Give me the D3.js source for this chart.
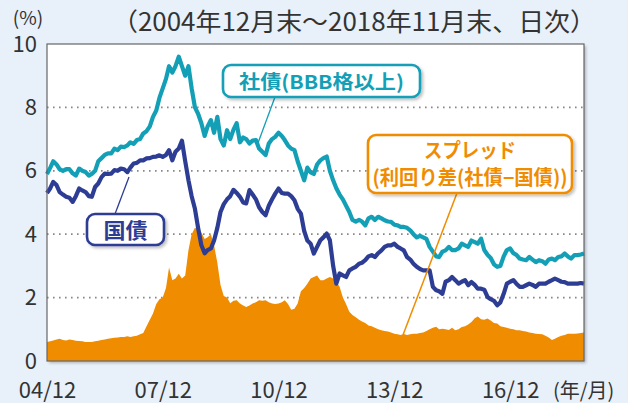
<!DOCTYPE html>
<html lang="ja">
<head>
<meta charset="utf-8">
<title>社債・国債利回りとスプレッド</title>
<script src="https://d3js.org/d3.v7.min.js"></script>
<style>
  body { margin: 0; background: #e8f0f9; }
  svg { display: block; font-family: "Noto Sans CJK JP", "Noto Sans", sans-serif; }
</style>
</head>
<body>
<svg width="628" height="403"></svg>
<script>
// monthly values, 2004/12 .. 2018/11 (month-end)
const startMonth = [2004, 12];
const corp = [
  5.9,6.1,6.3,6.2,6.05,6.0,6.05,6.05,5.92,5.85,
  6.07,6.0,5.96,5.85,5.9,6.0,6.3,6.4,6.5,6.55,
  6.55,6.7,6.65,6.76,6.75,6.8,6.9,6.85,6.97,7.0,
  7.18,7.25,7.4,7.7,7.9,8.3,8.6,8.9,9.3,9.1,
  9.3,9.6,9.3,9.0,9.3,8.6,8.0,7.8,7.5,7.1,
  7.4,7.6,7.2,7.7,7.0,6.8,7.28,7.0,7.3,7.5,
  6.9,7.05,7.0,6.86,6.95,6.97,6.7,6.6,6.5,6.86,
  7.0,7.07,7.2,7.1,6.97,6.8,6.7,6.65,6.3,6.0,
  5.7,6.1,5.95,5.9,6.2,6.33,6.4,6.45,6.0,5.7,
  5.45,5.25,5.1,4.9,4.7,4.45,4.4,4.45,4.4,4.28,
  4.5,4.55,4.45,4.55,4.5,4.44,4.4,4.39,4.3,4.28,
  4.23,4.23,4.2,4.12,4.0,3.9,3.95,3.9,3.85,3.6,
  3.45,3.3,3.28,3.45,3.49,3.6,3.5,3.5,3.55,3.7,
  3.65,3.6,3.8,3.75,3.7,3.86,3.5,3.35,3.25,3.05,
  2.97,3.0,3.3,3.5,3.55,3.4,3.35,3.23,3.2,3.18,
  3.28,3.2,3.12,3.18,3.15,3.07,3.2,3.23,3.18,3.28,
  3.3,3.39,3.3,3.23,3.34,3.34,3.36,3.39
];
const gov = [
  5.3,5.45,5.65,5.55,5.33,5.25,5.18,5.15,5.02,5.2,
  5.44,5.38,5.33,5.2,5.18,5.49,5.6,5.8,5.91,5.9,
  5.91,6.02,6.0,6.07,6.05,5.96,6.1,6.23,6.25,6.33,
  6.33,6.39,6.4,6.44,6.45,6.49,6.44,6.5,6.65,6.33,
  6.6,6.7,6.95,6.3,5.7,5.2,4.8,4.2,3.65,3.4,
  3.5,3.55,3.8,4.2,4.7,4.95,5.1,5.2,5.4,5.3,
  5.18,5.0,4.97,5.39,5.25,5.1,4.85,4.7,4.6,4.9,
  5.1,5.28,5.44,5.3,5.28,5.28,5.2,5.07,4.8,4.65,
  4.1,3.8,3.7,3.39,3.6,3.81,3.9,4.02,3.81,3.0,
  2.44,2.76,2.7,2.65,2.86,2.92,2.97,3.07,3.1,3.18,
  3.3,3.34,3.28,3.4,3.49,3.6,3.65,3.65,3.7,3.6,
  3.55,3.49,3.28,3.2,3.07,2.97,2.9,2.86,2.86,2.86,
  2.34,2.23,2.2,2.12,2.5,2.55,2.65,2.55,2.44,2.5,
  2.55,2.39,2.49,2.4,2.28,2.28,2.25,2.02,1.95,1.9,
  1.76,1.85,2.12,2.44,2.5,2.55,2.44,2.34,2.34,2.39,
  2.44,2.4,2.34,2.44,2.44,2.44,2.5,2.55,2.6,2.55,
  2.5,2.49,2.44,2.44,2.44,2.44,2.46,2.44
];
const spread = [
  0.6,0.62,0.65,0.68,0.7,0.66,0.65,0.68,0.66,0.64,
  0.63,0.62,0.6,0.6,0.6,0.62,0.64,0.66,0.68,0.7,
  0.72,0.73,0.74,0.76,0.76,0.78,0.76,0.78,0.8,0.84,
  0.88,1.1,1.3,1.5,1.8,1.95,2.0,2.3,2.95,2.55,
  2.6,2.75,2.6,2.7,3.5,4.0,4.2,4.15,4.05,3.85,
  3.9,4.0,3.65,3.1,2.4,2.05,2.0,1.82,1.9,1.92,
  1.81,1.75,1.7,1.75,1.81,1.85,1.92,1.9,1.92,1.85,
  1.81,1.8,1.81,1.85,1.92,1.8,1.62,1.65,1.81,2.2,
  2.3,2.44,2.6,2.65,2.7,2.55,2.55,2.6,2.65,2.6,
  2.5,2.34,2.0,1.8,1.55,1.45,1.38,1.3,1.25,1.2,
  1.12,1.1,1.05,1.0,0.97,0.95,0.93,0.9,0.86,0.84,
  0.82,0.85,0.82,0.84,0.86,0.86,0.88,0.9,0.95,1.0,
  1.05,1.08,1.0,1.02,1.0,0.98,1.05,0.97,1.0,1.07,
  1.1,1.15,1.23,1.35,1.4,1.32,1.3,1.34,1.28,1.2,
  1.18,1.1,1.07,1.05,1.02,1.0,0.97,0.97,0.95,0.93,
  0.9,0.88,0.86,0.85,0.84,0.8,0.74,0.66,0.7,0.76,
  0.8,0.82,0.86,0.86,0.86,0.87,0.88,0.9
];
const xTickLabels = ["04/12", "07/12", "10/12", "13/12", "16/12"];
const yTicks = [0, 2, 4, 6, 8, 10];

const corpColor = "#139fb6";
const govColor = "#2d3d94";
const spreadColor = "#f08c00";
const textColor = "#333";

const svg = d3.select("svg");
const L = 47, R = 584, T = 44, B = 361;

// month-end dates
const dates = corp.map((d, i) => new Date(startMonth[0], startMonth[1] + i, 0));
const labelDate = s => new Date(2000 + +s.slice(0, 2), +s.slice(3), 0);

const x = d3.scaleTime().domain([dates[0], dates[dates.length - 1]]).range([L, R]);
const y = d3.scaleLinear().domain([0, 10]).range([B, T]);

const defs = svg.append("defs");
const sh = defs.append("filter").attr("id", "shadow")
  .attr("x", "-10%").attr("y", "-10%").attr("width", "125%").attr("height", "130%");
sh.append("feDropShadow").attr("dx", 2).attr("dy", 2).attr("stdDeviation", 1.8)
  .attr("flood-color", "#000").attr("flood-opacity", 0.25);

svg.append("rect").attr("width", 628).attr("height", 403).attr("fill", "#e8f0f9");

// plot box
svg.append("rect").attr("x", L).attr("y", T).attr("width", R - L).attr("height", B - T)
  .attr("fill", "#fff").attr("filter", "url(#shadow)");

// dotted grid
svg.append("g").selectAll("line").data(yTicks.filter(d => d > 0 && d < 10)).join("line")
  .attr("x1", L).attr("x2", R).attr("y1", d => y(d)).attr("y2", d => y(d))
  .attr("stroke", "#888").attr("stroke-width", 1.8)
  .attr("stroke-dasharray", "1.6 4.4");

// spread area
svg.append("path").datum(spread)
  .attr("fill", spreadColor)
  .attr("d", d3.area().x((d, i) => x(dates[i])).y0(y(0)).y1(d => y(d)));

const line = d3.line().x((d, i) => x(dates[i])).y(d => y(d));
svg.append("path").datum(corp).attr("fill", "none").attr("stroke", corpColor)
  .attr("stroke-width", 4.2).attr("stroke-linejoin", "round").attr("d", line);
svg.append("path").datum(gov).attr("fill", "none").attr("stroke", govColor)
  .attr("stroke-width", 4.2).attr("stroke-linejoin", "round").attr("d", line);

// frame
svg.append("rect").attr("x", L).attr("y", T).attr("width", R - L).attr("height", B - T)
  .attr("fill", "none").attr("stroke", "#666").attr("stroke-width", 1.2);

// axes
const yAxis = svg.append("g").attr("transform", `translate(${L},0)`)
  .call(d3.axisLeft(y).tickValues(yTicks).tickSize(0).tickPadding(10));
const xAxis = svg.append("g").attr("transform", `translate(0,${B})`)
  .call(d3.axisBottom(x).tickValues(xTickLabels.map(labelDate))
    .tickFormat((d, i) => xTickLabels[i]).tickSize(0).tickPadding(21));
[yAxis, xAxis].forEach(g => {
  g.select(".domain").remove();
  g.selectAll("text").attr("font-size", 22).attr("fill", textColor)
    .attr("font-family", "'Noto Sans CJK JP', sans-serif");
});

svg.append("text").attr("x", 28).attr("y", 25).attr("text-anchor", "middle")
  .attr("font-size", 19).attr("fill", textColor).text("(%)");
svg.append("text").attr("x", 553).attr("y", 398)
  .attr("font-size", 20).attr("fill", textColor).text("(年/月)");
svg.append("text").attr("x", 112).attr("y", 31)
  .attr("font-size", 25).attr("fill", textColor)
  .attr("textLength", 484).attr("lengthAdjust", "spacingAndGlyphs")
  .text("（2004年12月末～2018年11月末、日次）");

// callouts
function callout(box, lines, color, leader, lw) {
  const g = svg.append("g");
  g.append("line").attr("x1", leader[0]).attr("y1", leader[1])
    .attr("x2", leader[2]).attr("y2", leader[3])
    .attr("stroke", color).attr("stroke-width", lw);
  g.append("rect").attr("x", box[0]).attr("y", box[1])
    .attr("width", box[2]).attr("height", box[3]).attr("rx", 8)
    .attr("fill", "#fff").attr("stroke", color).attr("stroke-width", 2.6)
    .attr("filter", "url(#shadow)");
  lines.forEach(l => {
    g.append("text").attr("x", box[0] + box[2] / 2).attr("y", l.y)
      .attr("text-anchor", "middle").attr("font-size", l.size).attr("font-weight", "bold")
      .attr("fill", color).attr("textLength", l.w).attr("lengthAdjust", "spacingAndGlyphs")
      .text(l.t);
  });
}
callout([223, 65, 197, 32], [{ t: "社債(BBB格以上)", y: 89, size: 19, w: 165 }],
  corpColor, [275, 97, 258, 143], 1.3);
callout([87, 214, 77, 31], [{ t: "国債", y: 238, size: 21, w: 44 }],
  govColor, [115, 214, 129, 177], 1.3);
callout([368, 135, 204, 58], [
  { t: "スプレッド", y: 158, size: 20, w: 92 },
  { t: "(利回り差(社債−国債))", y: 185, size: 20, w: 195 }
], spreadColor, [457, 193, 403, 335], 1.5);
</script>
</body>
</html>
